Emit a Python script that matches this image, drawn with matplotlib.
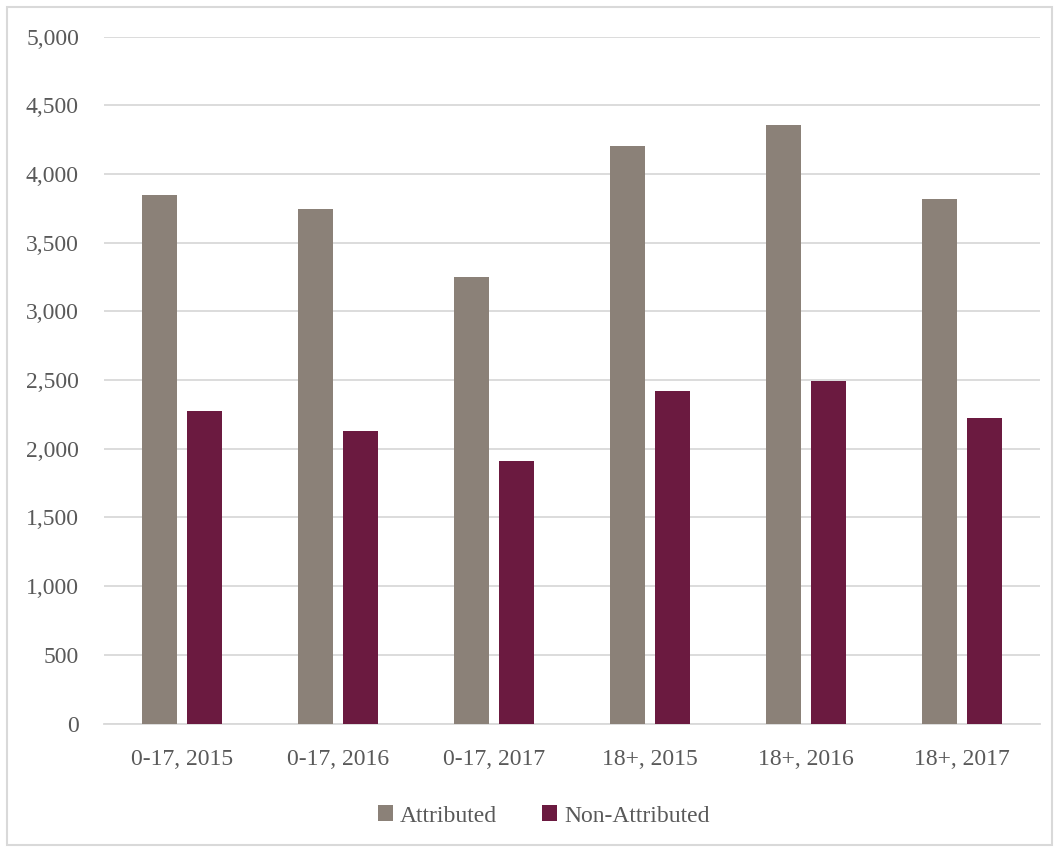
import numpy as np
import matplotlib
matplotlib.use('Agg')
from matplotlib import pyplot as plt
from matplotlib.patches import Rectangle

categories = ['0-17, 2015', '0-17, 2016', '0-17, 2017', '18+, 2015', '18+, 2016', '18+, 2017']
attributed = [3847, 3742, 3252, 4203, 4358, 3820]
non_attributed = [2276, 2129, 1914, 2420, 2495, 2221]
yticks = [0, 500, 1000, 1500, 2000, 2500, 3000, 3500, 4000, 4500, 5000]

plt.rcParams['font.family'] = ['Liberation Serif', 'DejaVu Serif']

fig = plt.figure(figsize=(10.6, 8.5), dpi=100)
ax = fig.add_axes([0.0981, 0.1488, 0.883, 0.8082])

# outer chart border
fig.patches.append(Rectangle((7 / 1060, 5 / 850), 1045 / 1060, 838 / 850,
                             transform=fig.transFigure, fill=False,
                             edgecolor='#d9d9d9', linewidth=1.5))

x = np.arange(len(categories))
w = 0.225
off = (w + 0.061) / 2
ax.bar(x - off, attributed, w, color='#8b8178', label='Attributed', zorder=3)
ax.bar(x + off, non_attributed, w, color='#6b1a40', label='Non-Attributed', zorder=3)

ax.set_xlim(-0.5, len(categories) - 0.5)
ax.set_ylim(0, 5000)
ax.set_yticks(yticks)
ax.set_yticklabels(['{:,}'.format(v) for v in yticks])
ax.set_xticks(x)
ax.set_xticklabels(categories)
ax.tick_params(length=0, labelsize=17, colors='#595959')
ax.tick_params(axis='y', pad=18)
ax.tick_params(axis='x', pad=18)
ax.grid(axis='y', color='#d9d9d9', linewidth=1.3, zorder=0)
for s in ['top', 'left', 'right']:
    ax.spines[s].set_visible(False)
ax.spines['bottom'].set_color('#d9d9d9')
ax.spines['bottom'].set_linewidth(1.3)

leg = fig.legend(loc='center', bbox_to_anchor=(0.513, 0.040), ncol=2, frameon=False,
                 fontsize=17, handlelength=0.65, handleheight=0.65, handletextpad=0.3,
                 columnspacing=1.9)
for t in leg.get_texts():
    t.set_color('#595959')

fig.savefig('out.png', dpi=100)
